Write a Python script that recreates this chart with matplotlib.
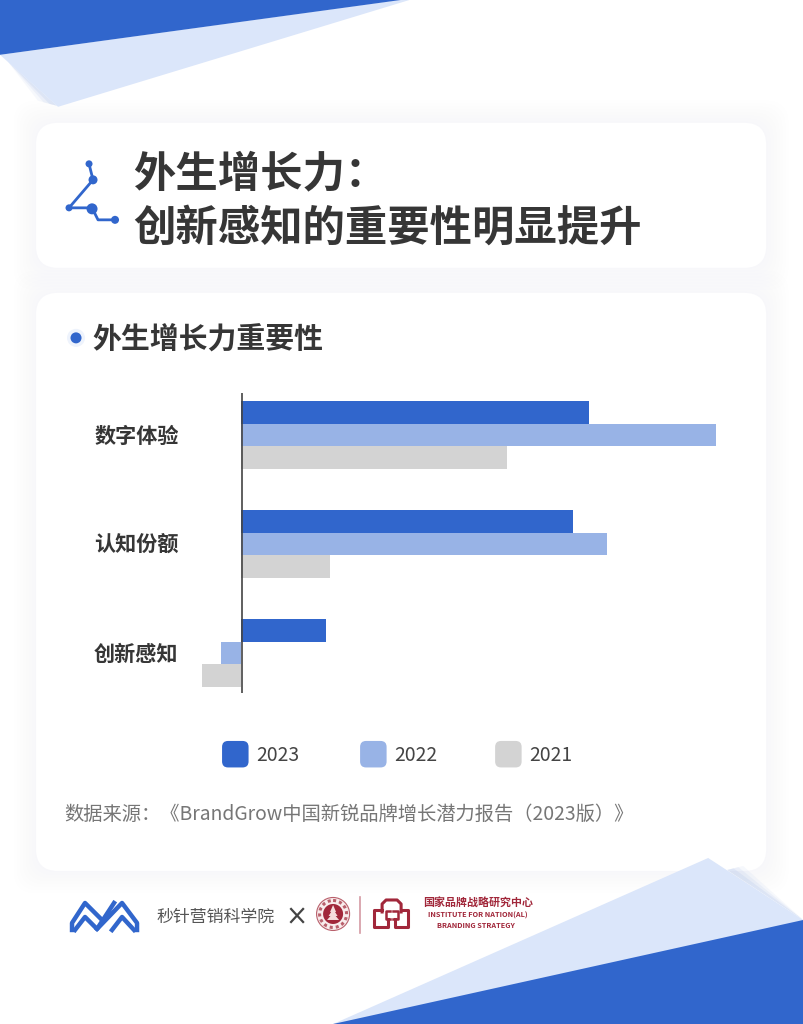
import matplotlib
matplotlib.use('Agg')
import matplotlib.pyplot as plt
from matplotlib.patches import FancyBboxPatch, Polygon, Circle
from matplotlib.transforms import ScaledTranslation

plt.rcParams['font.family'] = ['Noto Sans CJK SC', 'DejaVu Sans']

W, H = 803, 1024

# values (no axis in the original, arbitrary units)
categories = ['数字体验', '认知份额', '创新感知']
years = ['2023', '2022', '2021']
values_2023 = [34.8, 33.2, 8.5]
values_2022 = [47.5, 36.6, -2.0]
values_2021 = [26.6, 8.9, -3.9]

BLUE = '#3166cc'
MID = '#98b3e6'
GREY = '#d3d3d3'
LIGHT = '#dbe6fa'
DARK = '#363636'
RED = '#a1273a'
colors = [BLUE, MID, GREY]

fig = plt.figure(figsize=((W + 0.2) / 100, (H + 0.2) / 100), dpi=100, facecolor='white')
bg = fig.add_axes([0, 0, 1, 1])
bg.set_xlim(0, W)
bg.set_ylim(H, 0)
bg.axis('off')


def card(x, y, w, h, r=22):
    # soft shadow made of many stacked rounded boxes
    for grow in range(22, 0, -3):
        bg.add_patch(FancyBboxPatch((x - grow + r, y - grow + r), w + 2 * grow - 2 * r, h + 2 * grow - 2 * r,
                                    boxstyle=f'round,pad={r}', fc='#d5e0fa', ec='none', alpha=0.02, zorder=2))
    bg.add_patch(FancyBboxPatch((x + r, y + r), w - 2 * r, h - 2 * r,
                                boxstyle=f'round,pad={r}', fc='white', ec='none', zorder=3))


card(36, 123, 730, 145)
card(36, 293, 730, 578)

# corner triangles, with a blurred wedge under the edge of the light ones
for k, a in ((1.0, 0.10), (0.7, 0.14), (0.4, 0.2)):
    bg.add_patch(Polygon([(8, 62), (57, 106), (57 - 19 * k, 106 - 5 * k)], fc='#a9bfe9', ec='none', alpha=a, zorder=3.5))
    bg.add_patch(Polygon([(727, 870), (803, 920), (727 + 16 * k, 870 - 4 * k)], fc='#a9bfe9', ec='none', alpha=a, zorder=3.5))
bg.add_patch(Polygon([(0, 55), (58, 107), (410, 0), (400, 0)], fc=LIGHT, ec='none', zorder=4))
bg.add_patch(Polygon([(0, 0), (402, 0), (0, 55)], fc=BLUE, ec='none', zorder=4.2))
bg.add_patch(Polygon([(333, 1024), (708, 858), (803, 920), (803, 1024)], fc=LIGHT, ec='none', zorder=4))
bg.add_patch(Polygon([(333, 1024), (803, 920), (803, 1024)], fc=BLUE, ec='none', zorder=4.2))

# title icon
bg.plot([89, 93, 69, 92, 98, 115], [164, 180, 208, 208, 220, 220], color=BLUE, lw=2, zorder=5)
for cx, cy, r in [(89, 164, 3.5), (93, 180, 4.5), (69, 208, 3.5), (92, 209, 5.5), (115, 220, 4)]:
    bg.add_patch(Circle((cx, cy), r, fc=BLUE, ec='none', zorder=6))

bg.text(133, 174, '外生增长力：', fontsize=30.5, fontweight='bold', color=DARK, va='center', ha='left', zorder=6)
bg.text(133, 229, '创新感知的重要性明显提升', fontsize=30.5, fontweight='bold', color=DARK, va='center', ha='left', zorder=6)

# subtitle with dot
bg.add_patch(Circle((76, 338), 9, fc='#eef3fc', ec='none', zorder=5))
bg.add_patch(Circle((76, 338), 5.5, fc=BLUE, ec='none', zorder=6))
bg.text(92, 340, '外生增长力重要性', fontsize=20.8, fontweight='bold', color=DARK, va='center', ha='left', zorder=6)

# legend
for year, c, x0 in zip(years, colors, (222, 360, 495)):
    bg.add_patch(FancyBboxPatch((x0 + 6, 741 + 6), 14.5, 14.5, boxstyle='round,pad=6', fc=c, ec='none', zorder=6))
    bg.text(x0 + 34, 755, year, fontsize=13.9, color='#444444', va='center', ha='left', zorder=6)

bg.text(64, 814, '数据来源：《BrandGrow中国新锐品牌增长潜力报告（2023版）》', fontsize=13.9,
        color='#767676', va='center', ha='left', zorder=6)

# footer logos
bg.plot([72, 72, 85, 100], [930, 923, 903, 918], color=BLUE, lw=3.2, solid_joinstyle='round', zorder=6)
bg.plot([75, 85, 97, 114], [930, 917, 929, 903], color=BLUE, lw=3.2, solid_joinstyle='round', zorder=6)
bg.plot([97, 122, 137, 137], [929, 903, 923, 930], color=BLUE, lw=3.2, solid_joinstyle='round', zorder=6)
bg.plot([112, 122, 134], [930, 917, 930], color=BLUE, lw=3.2, solid_joinstyle='round', zorder=6)
bg.text(156, 917, '秒针营销科学院', fontsize=12.2, color='#555555', va='center', ha='left', zorder=6)
bg.plot([291, 303], [909, 922], color='#444444', lw=1.6, zorder=6)
bg.plot([291, 303], [922, 909], color='#444444', lw=1.6, zorder=6)

bg.add_patch(Circle((333, 914), 16.5, fc='#f8ecec', ec='#b9606c', lw=0.8, zorder=6))
bg.add_patch(Circle((333, 914), 13.5, fc='none', ec='#b9606c', lw=2.2, ls=(0, (1, 1)), zorder=6.05))
bg.add_patch(Circle((333, 914), 10, fc=RED, ec='none', zorder=6.1))
for top_y, half in ((905, 3), (909, 4.5), (913, 6)):
    bg.add_patch(Polygon([(333, top_y), (333 + half, top_y + 7), (333 - half, top_y + 7)], fc='#f5dcdc', ec='none', zorder=6.2))
bg.plot([360, 360], [897, 933], color='#d49aa3', lw=1.2, zorder=6)

# arch and the two side boxes of the institute logo
bg.plot([382, 382, 386, 397, 401, 401], [912, 904, 900, 900, 904, 912], color=RED, lw=2.2, zorder=6)
bg.plot([382, 374, 374, 388, 388], [910, 910, 927, 927, 919], color=RED, lw=2.2, zorder=6)
bg.plot([401, 408, 408, 395, 395], [910, 910, 927, 927, 919], color=RED, lw=2.2, zorder=6)
bg.plot([390, 386, 386, 390], [911, 911, 919, 919], color=RED, lw=1.8, zorder=6)
bg.plot([393, 398, 398, 393], [911, 911, 919, 919], color=RED, lw=1.8, zorder=6)
bg.text(478, 903, '国家品牌战略研究中心', fontsize=7.9, fontweight='bold', color=RED, va='center', ha='center', zorder=6)
bg.text(478, 915, 'INSTITUTE FOR NATION(AL)', fontsize=5.3, fontweight='bold', color=RED, va='center', ha='center', zorder=6)
bg.text(476, 925, 'BRANDING STRATEGY', fontsize=5.3, fontweight='bold', color=RED, va='center', ha='center', zorder=6)

# chart axes, placed on the pixel box of the bars
left, right, top, bottom = 180, 740, 393, 693
zero_x = 241
ax = fig.add_axes([left / W, 1 - bottom / H, (right - left) / W, (bottom - top) / H])
ax.patch.set_alpha(0)
ax.set_xlim((left - zero_x) / 10, (right - zero_x) / 10)
ax.set_ylim((bottom - 435) / 109, (top - 435) / 109)

bar_h = 22.7 / 109
for i, (vals, c) in enumerate(zip((values_2023, values_2022, values_2021), colors)):
    ax.barh([k + (i - 1) * bar_h for k in range(len(categories))], vals, height=bar_h, color=c, linewidth=0, zorder=2)

ax.axvline(0.05, color='#444444', lw=1.2, zorder=3)
ax.set_yticks(range(len(categories)))
ax.set_yticklabels(categories, fontsize=15.2, fontweight='bold', color=DARK)
ax.tick_params(axis='y', length=0, pad=1)
for label in ax.get_yticklabels():
    label.set_transform(label.get_transform() + ScaledTranslation(0, 1 / 100, fig.dpi_scale_trans))
ax.set_xticks([])
for s in ax.spines.values():
    s.set_visible(False)

fig.savefig('out.png', dpi=100)
